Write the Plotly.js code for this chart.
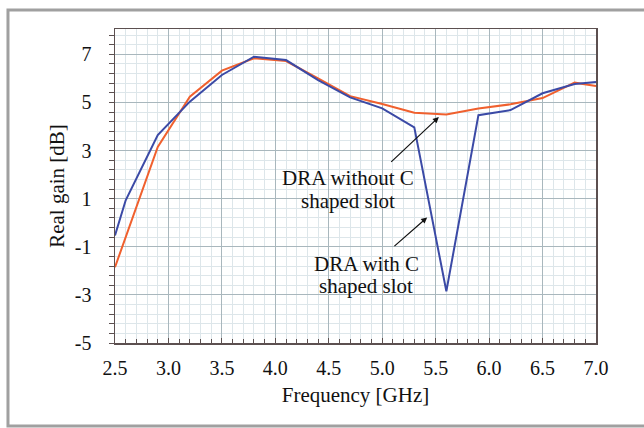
<!DOCTYPE html>
<html>
<head>
<meta charset="utf-8">
<script src="https://cdn.plot.ly/plotly-3.0.1.min.js"></script>
<style>
  html, body { margin: 0; padding: 0; background: #ffffff; }
  #chart { width: 644px; height: 428px; }
</style>
</head>
<body>
<div id="chart"></div>
<script>
// Frequency points (GHz)
const freqWith = [2.5, 2.6, 2.9, 3.2, 3.5, 3.8, 4.1, 4.4, 4.7, 5.0, 5.3, 5.6, 5.9, 6.2, 6.5, 6.8, 7.0];
// DRA with C shaped slot (blue), real gain [dB]
const gainWith = [-0.53, 0.93, 3.64, 5.03, 6.14, 6.9, 6.76, 5.93, 5.21, 4.75, 3.96, -2.85, 4.47, 4.68, 5.38, 5.76, 5.85];

const freqWithout = [2.5, 2.9, 3.2, 3.5, 3.8, 4.1, 4.4, 4.7, 5.0, 5.3, 5.6, 5.9, 6.2, 6.5, 6.8, 7.0];
// DRA without C shaped slot (orange), real gain [dB]
const gainWithout = [-1.85, 3.15, 5.24, 6.32, 6.83, 6.72, 6.0, 5.26, 4.93, 4.57, 4.5, 4.75, 4.92, 5.18, 5.82, 5.68];

const xTickVals = [2.5, 3.0, 3.5, 4.0, 4.5, 5.0, 5.5, 6.0, 6.5, 7.0];
const xTickText = ['2.5', '3.0', '3.5', '4.0', '4.5', '5.0', '5.5', '6.0', '6.5', '7.0'];
const yTickVals = [-5, -3, -1, 1, 3, 5, 7];
const yTickText = ['-5', '-3', '-1', '1', '3', '5', '7'];

const blue = '#3b4aa6';
const orange = '#f0602e';
const serif = 'Liberation Serif, Times New Roman, serif';

const traces = [
  { x: freqWithout, y: gainWithout, type: 'scatter', mode: 'lines',
    line: { color: orange, width: 2 }, name: 'DRA without C shaped slot', hoverinfo: 'skip' },
  { x: freqWith, y: gainWith, type: 'scatter', mode: 'lines',
    line: { color: blue, width: 2 }, name: 'DRA with C shaped slot', hoverinfo: 'skip' }
];

const annFont = { family: serif, size: 21, color: '#111111' };

const layout = {
  width: 644, height: 428,
  margin: { l: 115, r: 48, t: 29, b: 85 },
  paper_bgcolor: '#ffffff', plot_bgcolor: '#ffffff',
  showlegend: false,
  font: { family: serif, color: '#111111' },
  xaxis: {
    range: [2.5, 7.0],
    tickvals: xTickVals, ticktext: xTickText,
    ticks: 'inside', ticklen: 5, tickcolor: '#5c5050', tickwidth: 1,
    tickfont: { family: serif, size: 20, color: '#111111' },
    ticklabelstandoff: 6,
    showgrid: true, gridcolor: '#a9b7bd', gridwidth: 1,
    minor: { dtick: 0.1, tick0: 2.5, ticks: 'inside', ticklen: 4, tickcolor: '#5c5050',
             showgrid: true, gridcolor: '#dde6ea', gridwidth: 1 },
    showline: true, linecolor: '#5c5050', linewidth: 1.5, mirror: true,
    zeroline: false,
    title: { text: 'Frequency [GHz]', font: { family: serif, size: 21, color: '#111111' }, standoff: 10 }
  },
  yaxis: {
    range: [-5, 8.05],
    tickvals: yTickVals, ticktext: yTickText,
    ticks: 'outside', ticklen: 5, tickcolor: '#5c5050', tickwidth: 1,
    tickfont: { family: serif, size: 20, color: '#111111' },
    ticklabelstandoff: 13,
    showgrid: true, gridcolor: '#a9b7bd', gridwidth: 1,
    minor: { dtick: 0.4, tick0: -5, ticks: 'outside', ticklen: 5, tickcolor: '#5c5050',
             showgrid: true, gridcolor: '#dde6ea', gridwidth: 1 },
    showline: true, linecolor: '#5c5050', linewidth: 1.5, mirror: true,
    zeroline: false,
    title: { text: 'Real gain [dB]', font: { family: serif, size: 21, color: '#111111' }, standoff: 4 }
  },
  annotations: [
    { x: 5.53, y: 4.39, ax: 5.07, ay: 2.47, xref: 'x', yref: 'y', axref: 'x', ayref: 'y',
      text: '', showarrow: true, arrowhead: 2, arrowsize: 1, arrowwidth: 1.2, arrowcolor: '#111111' },
    { x: 5.42, y: 0.22, ax: 5.1, ay: -1.03, xref: 'x', yref: 'y', axref: 'x', ayref: 'y',
      text: '', showarrow: true, arrowhead: 2, arrowsize: 1, arrowwidth: 1.2, arrowcolor: '#111111' },
    { x: 4.68, y: 1.85, xref: 'x', yref: 'y', text: 'DRA without C', showarrow: false, font: annFont },
    { x: 4.68, y: 0.92, xref: 'x', yref: 'y', text: 'shaped slot', showarrow: false, font: annFont },
    { x: 4.85, y: -1.7, xref: 'x', yref: 'y', text: 'DRA with C', showarrow: false, font: annFont },
    { x: 4.85, y: -2.65, xref: 'x', yref: 'y', text: 'shaped slot', showarrow: false, font: annFont }
  ],
  shapes: [
    { type: 'rect', xref: 'paper', yref: 'paper',
      x0: -0.2225, x1: 1.2, y0: -0.264, y1: 1.0605,
      line: { color: '#a0a0a0', width: 3 }, fillcolor: 'rgba(0,0,0,0)', layer: 'above' }
  ]
};

Plotly.newPlot('chart', traces, layout, { staticPlot: true, displayModeBar: false });
</script>
</body>
</html>
